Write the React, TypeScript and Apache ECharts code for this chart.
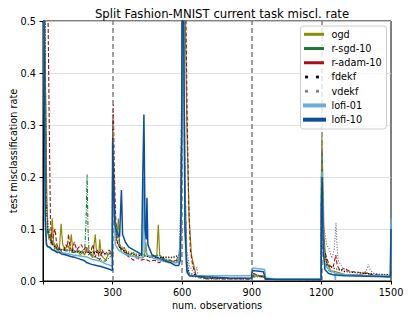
import React, { useEffect, useRef } from "react";
import * as echarts from "echarts";

const TITLE = "Split Fashion-MNIST current task miscl. rate";
const X_LABEL = "num. observations";
const Y_LABEL = "test misclassification rate";
const TASK_BOUNDARIES = [300, 600, 900, 1200, 1500];
const SERIES_NAMES = ["ogd", "r-sgd-10", "r-adam-10", "fdekf", "vdekf", "lofi-01", "lofi-10"];

const ogd: [number, number][] = [
  [0, 0.9], [8, 0.5], [15, 0.2], [20, 0.1], [25, 0.08], [30, 0.09], [35, 0.07], [40, 0.12], [45, 0.08], [50, 0.06],
  [55, 0.07], [60, 0.055], [70, 0.06], [78, 0.11], [85, 0.07], [95, 0.06], [105, 0.07], [115, 0.06], [122, 0.09],
  [128, 0.06], [140, 0.055], [150, 0.06], [160, 0.05], [170, 0.055], [180, 0.05], [188, 0.065], [195, 0.06],
  [205, 0.05], [215, 0.045], [225, 0.09], [230, 0.06], [240, 0.05], [245, 0.08], [250, 0.05], [260, 0.045],
  [270, 0.04], [280, 0.05], [290, 0.055], [299, 0.05],
  [300, 0.3], [305, 0.2], [310, 0.1], [318, 0.08], [325, 0.12], [330, 0.07], [340, 0.06], [350, 0.065], [360, 0.055],
  [375, 0.05], [390, 0.055], [405, 0.045], [420, 0.05], [438, 0.05], [443, 0.075], [448, 0.05], [460, 0.045],
  [475, 0.05], [490, 0.045], [497, 0.108], [503, 0.05], [515, 0.045], [530, 0.04], [550, 0.04], [570, 0.035],
  [585, 0.04], [595, 0.1], [600, 0.6], [610, 0.6], [620, 0.3], [630, 0.12], [640, 0.05], [650, 0.03], [660, 0.01],
  [700, 0.006], [800, 0.005], [899, 0.005],
  [900, 0.01], [905, 0.012], [950, 0.01], [958, 0.004], [1000, 0.003], [1199, 0.003],
  [1200, 0.2], [1202, 0.277], [1206, 0.2], [1212, 0.08], [1220, 0.04], [1240, 0.02], [1260, 0.018], [1300, 0.013],
  [1360, 0.012], [1400, 0.015], [1410, 0.01], [1497, 0.008], [1500, 0.03],
];

const rSgd10: [number, number][] = [
  [0, 0.9], [8, 0.5], [15, 0.15], [20, 0.09], [28, 0.1], [35, 0.075], [45, 0.07], [55, 0.065], [65, 0.06], [80, 0.06],
  [100, 0.058], [120, 0.055], [140, 0.055], [160, 0.055], [180, 0.06], [186, 0.12], [190, 0.205], [194, 0.1],
  [198, 0.06], [210, 0.05], [230, 0.045], [250, 0.04], [270, 0.038], [285, 0.045], [299, 0.05],
  [300, 0.3], [305, 0.2], [310, 0.12], [318, 0.1], [325, 0.09], [335, 0.06], [350, 0.055], [370, 0.05], [390, 0.048],
  [410, 0.045], [430, 0.045], [450, 0.05], [465, 0.045], [480, 0.048], [500, 0.05], [520, 0.042], [540, 0.04],
  [560, 0.038], [575, 0.04], [585, 0.05], [592, 0.06], [600, 0.5], [606, 0.6], [612, 0.2], [620, 0.03], [630, 0.01],
  [700, 0.004], [800, 0.004], [899, 0.004],
  [900, 0.008], [950, 0.008], [958, 0.003], [1199, 0.002],
  [1200, 0.2], [1203, 0.25], [1208, 0.1], [1215, 0.04], [1230, 0.02], [1260, 0.015], [1300, 0.012], [1400, 0.01],
  [1497, 0.008], [1500, 0.02],
];

const rAdam10: [number, number][] = [
  [0, 0.9], [10, 0.7], [18, 0.6], [22, 0.5], [27, 0.3], [32, 0.12], [38, 0.07], [45, 0.09], [52, 0.1], [58, 0.075],
  [65, 0.06], [72, 0.065], [80, 0.055], [90, 0.06], [98, 0.07], [105, 0.065], [110, 0.09], [115, 0.07], [125, 0.055],
  [135, 0.075], [145, 0.06], [155, 0.065], [165, 0.07], [175, 0.06], [185, 0.065], [195, 0.05], [205, 0.055],
  [215, 0.07], [225, 0.045], [235, 0.06], [245, 0.04], [255, 0.06], [265, 0.05], [275, 0.055], [285, 0.06], [299, 0.05],
  [300, 0.3], [303, 0.34], [308, 0.2], [315, 0.1], [322, 0.07], [330, 0.065], [345, 0.06], [360, 0.05], [375, 0.045],
  [390, 0.04], [405, 0.045], [420, 0.04], [440, 0.042], [460, 0.038], [480, 0.04], [500, 0.035], [520, 0.04],
  [540, 0.035], [560, 0.038], [580, 0.04], [592, 0.045], [598, 0.3], [603, 0.6], [615, 0.55], [622, 0.3], [628, 0.15],
  [635, 0.06], [645, 0.03], [660, 0.01], [700, 0.005], [800, 0.004], [899, 0.004],
  [900, 0.012], [905, 0.015], [930, 0.01], [955, 0.008], [960, 0.003], [1199, 0.002],
  [1200, 0.15], [1205, 0.1], [1212, 0.06], [1222, 0.045], [1235, 0.03], [1250, 0.025], [1262, 0.05], [1268, 0.03],
  [1280, 0.02], [1300, 0.025], [1315, 0.02], [1330, 0.018], [1400, 0.015], [1420, 0.012], [1497, 0.01], [1500, 0.02],
];

const fdekf: [number, number][] = [
  [0, 0.9], [8, 0.5], [15, 0.15], [22, 0.1], [30, 0.08], [40, 0.07], [55, 0.065], [75, 0.06], [100, 0.06],
  [130, 0.058], [160, 0.056], [190, 0.055], [220, 0.055], [250, 0.055], [275, 0.052], [299, 0.052],
  [300, 0.25], [306, 0.15], [315, 0.08], [330, 0.065], [360, 0.055], [400, 0.05], [440, 0.048], [480, 0.045],
  [520, 0.045], [560, 0.045], [590, 0.05], [598, 0.3], [603, 0.6], [612, 0.15], [620, 0.04], [630, 0.015],
  [700, 0.006], [800, 0.005], [899, 0.005],
  [900, 0.01], [950, 0.009], [958, 0.003], [1199, 0.003],
  [1200, 0.15], [1205, 0.12], [1212, 0.06], [1225, 0.03], [1250, 0.025], [1300, 0.018], [1400, 0.014],
  [1497, 0.012], [1500, 0.02],
];

const vdekf: [number, number][] = [
  [0, 0.9], [8, 0.5], [15, 0.16], [22, 0.11], [30, 0.085], [40, 0.075], [55, 0.068], [75, 0.062], [100, 0.06],
  [130, 0.058], [160, 0.058], [190, 0.056], [220, 0.057], [250, 0.056], [275, 0.055], [299, 0.055],
  [300, 0.25], [306, 0.16], [315, 0.09], [330, 0.07], [360, 0.058], [400, 0.052], [440, 0.05], [480, 0.048],
  [520, 0.047], [560, 0.046], [590, 0.052], [598, 0.3], [603, 0.6], [612, 0.2], [620, 0.06], [630, 0.03],
  [645, 0.02], [655, 0.015], [663, 0.027], [670, 0.008], [700, 0.006], [800, 0.005], [899, 0.005],
  [900, 0.01], [950, 0.01], [958, 0.004], [1060, 0.004], [1199, 0.004],
  [1200, 0.15], [1205, 0.12], [1212, 0.1], [1223, 0.07], [1235, 0.06], [1245, 0.044], [1255, 0.06], [1263, 0.112],
  [1268, 0.06], [1272, 0.04], [1285, 0.03], [1300, 0.02], [1330, 0.018], [1370, 0.016], [1392, 0.018],
  [1402, 0.032], [1410, 0.022], [1425, 0.014], [1450, 0.012], [1497, 0.012], [1500, 0.02],
];

const lofi01: [number, number][] = [
  [0, 0.9], [5, 0.4], [10, 0.1], [15, 0.07], [25, 0.065], [40, 0.06], [60, 0.058], [80, 0.055], [100, 0.053],
  [130, 0.05], [160, 0.048], [190, 0.046], [210, 0.042], [230, 0.04], [250, 0.038], [270, 0.033], [290, 0.03],
  [299, 0.028],
  [300, 0.2], [305, 0.15], [312, 0.07], [325, 0.06], [340, 0.055], [360, 0.05], [380, 0.048], [410, 0.045],
  [430, 0.045], [435, 0.2], [440, 0.06], [450, 0.05], [470, 0.045], [500, 0.04], [530, 0.037], [560, 0.035],
  [585, 0.035], [595, 0.1], [602, 0.5], [606, 0.6], [612, 0.1], [620, 0.015], [640, 0.01], [700, 0.01], [800, 0.01],
  [899, 0.01],
  [900, 0.022], [905, 0.025], [955, 0.022], [960, 0.006], [1000, 0.004], [1199, 0.004],
  [1200, 0.2], [1203, 0.21], [1208, 0.08], [1215, 0.03], [1240, 0.02], [1258, 0.015], [1260, 0.001], [1262, 0.015],
  [1300, 0.012], [1400, 0.01], [1497, 0.01], [1500, 0.12],
];

const lofi10: [number, number][] = [
  [0, 0.9], [5, 0.45], [10, 0.12], [15, 0.07], [20, 0.066], [30, 0.065], [40, 0.06], [50, 0.058], [60, 0.055],
  [70, 0.055], [80, 0.052], [100, 0.05], [120, 0.047], [140, 0.045], [160, 0.042], [175, 0.04], [190, 0.035],
  [210, 0.032], [230, 0.03], [250, 0.028], [270, 0.025], [290, 0.022], [299, 0.02],
  [300, 0.27], [303, 0.2], [310, 0.11], [320, 0.09], [330, 0.085], [338, 0.175], [343, 0.09], [355, 0.075],
  [370, 0.065], [390, 0.06], [410, 0.055], [425, 0.05], [430, 0.2], [435, 0.32], [440, 0.1], [445, 0.08],
  [448, 0.16], [452, 0.07], [470, 0.05], [490, 0.045], [510, 0.042], [530, 0.038], [550, 0.035], [570, 0.03],
  [585, 0.03], [592, 0.04], [597, 0.2], [600, 0.5], [605, 0.6], [612, 0.1], [620, 0.02], [630, 0.01], [700, 0.008],
  [800, 0.006], [899, 0.005],
  [900, 0.016], [905, 0.02], [950, 0.018], [958, 0.005], [1000, 0.003], [1100, 0.003], [1199, 0.003],
  [1200, 0.15], [1203, 0.2], [1208, 0.06], [1215, 0.022], [1230, 0.015], [1250, 0.012], [1300, 0.01],
  [1400, 0.009], [1480, 0.008], [1497, 0.008], [1500, 0.1],
];

const SERIES_DATA = [ogd, rSgd10, rAdam10, fdekf, vdekf, lofi01, lofi10];
const COLORS = ["#8c8c00", "#1b7a3a", "#a51017", "#000000", "#7a7a7a", "#6baed6", "#0b4f9c"];
const LINE_TYPES: any[] = ["solid", [4, 1.5, 1, 1.5], [4, 2], [1.2, 1.5], [1.2, 1.5], "solid", "solid"];
const LINE_WIDTHS = [1.2, 1.1, 1.1, 1.1, 1.1, 1.5, 1.5];
const LEGEND_KIND = ["line", "line", "line", "dots", "dots", "wide", "wide"];

const FONT = "DejaVu Sans, Verdana, sans-serif";
const FS = 9.7;

export default function App() {
  const ref = useRef<HTMLDivElement>(null);
  useEffect(() => {
    if (!ref.current) return;
    const chart = echarts.init(ref.current, undefined, { renderer: "svg" });

    const legendEls: any[] = [
      {
        type: "rect",
        shape: { x: 300.5, y: 26, width: 86, height: 103, r: 3 },
        style: { fill: "rgba(255,255,255,0.8)", stroke: "#cccccc", lineWidth: 1 },
        z: 100,
      },
    ];
    SERIES_NAMES.forEach((name, i) => {
      const cy = 34.3 + i * 14.23;
      const kind = LEGEND_KIND[i];
      if (kind === "dots") {
        [306.5, 317.5].forEach((cx) =>
          legendEls.push({
            type: "rect",
            shape: { x: cx - 1.4, y: cy - 1.4, width: 2.8, height: 2.8 },
            style: { fill: COLORS[i] },
            z: 101,
          })
        );
      } else {
        const wide = kind === "wide";
        legendEls.push({
          type: "line",
          shape: { x1: wide ? 303 : 304, y1: cy, x2: wide ? 326 : 324, y2: cy },
          style: { stroke: COLORS[i], lineWidth: wide ? 4 : 3 },
          z: 101,
        });
      }
      legendEls.push({
        type: "text",
        x: 331.5,
        y: cy,
        style: { text: name, fill: "#000", font: `${FS}px ${FONT}`, verticalAlign: "middle", textAlign: "left" },
        z: 101,
      });
    });

    const series: any[] = SERIES_NAMES.map((name, i) => ({
      type: "line",
      name,
      data: SERIES_DATA[i],
      showSymbol: false,
      symbol: "none",
      clip: true,
      lineStyle: { color: COLORS[i], width: LINE_WIDTHS[i], type: LINE_TYPES[i] },
      itemStyle: { color: COLORS[i] },
      z: 2 + i,
    }));
    series.push({
      type: "line",
      name: "boundaries",
      data: [],
      z: 20,
      markLine: {
        silent: true,
        symbol: "none",
        label: { show: false },
        lineStyle: { color: "#7f7f7f", type: [5, 3], width: 1.5 },
        data: TASK_BOUNDARIES.map((b) => ({ xAxis: b })),
      },
    });

    chart.setOption({
      animation: false,
      backgroundColor: "#ffffff",
      textStyle: { fontFamily: FONT },
      title: {
        text: TITLE,
        left: 217,
        top: 3,
        textAlign: "center",
        textStyle: { fontSize: 11.7, fontWeight: "normal", color: "#000", fontFamily: FONT },
      },
      grid: {
        left: 43,
        right: 20,
        top: 21,
        bottom: 37,
        containLabel: false,
        outerBoundsMode: "none",
        show: true,
        borderColor: "#000",
        borderWidth: 1,
        backgroundColor: "transparent",
      },
      xAxis: {
        type: "value",
        min: 0,
        max: 1500,
        interval: 300,
        name: X_LABEL,
        nameLocation: "middle",
        nameGap: 19,
        nameMoveOverlap: false,
        nameTextStyle: { fontSize: FS, color: "#000", fontFamily: FONT },
        axisLine: { show: true, onZero: false, lineStyle: { color: "#000", width: 1 } },
        axisTick: { show: true, length: 3.5, lineStyle: { color: "#000" } },
        axisLabel: {
          fontSize: FS,
          color: "#000",
          margin: 6,
          fontFamily: FONT,
          formatter: (v: number) => (v === 0 ? "" : String(v)),
        },
        splitLine: { show: false },
      },
      yAxis: {
        type: "value",
        min: 0,
        max: 0.5,
        interval: 0.1,
        name: Y_LABEL,
        nameLocation: "middle",
        nameGap: 25,
        nameMoveOverlap: false,
        nameTextStyle: { fontSize: FS, color: "#000", fontFamily: FONT },
        axisLine: { show: true, lineStyle: { color: "#000", width: 1 } },
        axisTick: { show: true, length: 3.5, lineStyle: { color: "#000" } },
        axisLabel: {
          fontSize: FS,
          color: "#000",
          margin: 7,
          fontFamily: FONT,
          formatter: (v: number) => v.toFixed(1),
        },
        splitLine: { show: true, lineStyle: { color: "#d9d9d9", width: 0.8 } },
      },
      series,
      graphic: legendEls,
    });

    return () => chart.dispose();
  }, []);

  return <div ref={ref} style={{ width: 411, height: 318, position: "absolute", left: 0, top: 0 }} />;
}
